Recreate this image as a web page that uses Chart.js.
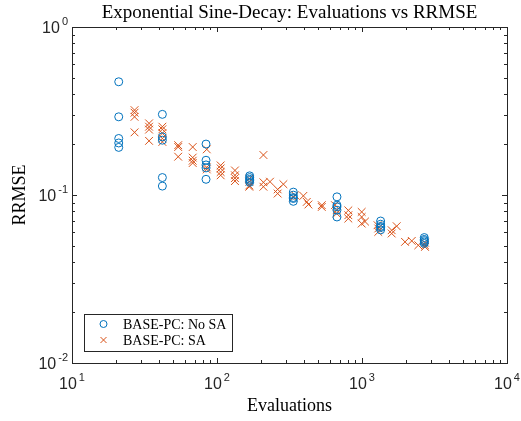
<!DOCTYPE html>
<html>
<head>
<meta charset="utf-8">
<script src="https://cdn.jsdelivr.net/npm/chart.js@4.4.0/dist/chart.umd.min.js"></script>
<style>
  body { margin: 0; background: #fff; }
  #wrap { width: 521px; height: 421px; }
</style>
</head>
<body>
<div id="wrap"><canvas id="chart" width="521" height="421"></canvas></div>
<script>
// No SA runs (circles)
const noSaEvals = [21, 21, 21, 21, 21, 42, 42, 42, 42, 42, 84, 84, 84, 84, 84,
  168, 168, 168, 168, 168, 336, 336, 336, 336, 336, 672, 672, 672, 672, 672,
  1344, 1344, 1344, 1344, 1344, 2688, 2688, 2688, 2688, 2688];
const noSaRrmse = [0.472, 0.292, 0.217, 0.204, 0.192, 0.302, 0.222, 0.212, 0.127, 0.113,
  0.201, 0.161, 0.151, 0.145, 0.124, 0.130, 0.127, 0.124, 0.122, 0.119,
  0.104, 0.0998, 0.0966, 0.0953, 0.0917, 0.0975, 0.0870, 0.0850, 0.0812, 0.0740,
  0.0700, 0.0670, 0.0650, 0.0640, 0.0620, 0.0558, 0.0544, 0.0535, 0.0525, 0.0515];

// SA runs (crosses)
const saEvals = [27, 27, 27, 27, 34, 34, 34, 34, 42, 42, 42, 42, 42, 54, 54, 54,
  68, 68, 68, 68, 85, 85, 85, 106, 106, 106, 106, 133, 133, 133, 133,
  167, 167, 167, 167, 209, 209, 209, 232, 262, 262, 287, 336, 345, 394, 416, 427,
  528, 528, 651, 669, 669, 805, 805, 805, 995, 995, 995, 1049, 1280, 1295, 1295,
  1602, 1602, 1735, 1980, 2203, 2445, 2720, 2720, 2720];
const saRrmse = [0.320, 0.309, 0.292, 0.236, 0.267, 0.255, 0.245, 0.210,
  0.255, 0.246, 0.233, 0.217, 0.207, 0.198, 0.193, 0.169,
  0.193, 0.167, 0.160, 0.155, 0.187, 0.146, 0.142, 0.150, 0.144, 0.137, 0.131,
  0.140, 0.131, 0.126, 0.121, 0.125, 0.120, 0.114, 0.112, 0.173, 0.119, 0.112,
  0.120, 0.108, 0.102, 0.116, 0.0966, 0.0997, 0.0988, 0.0910, 0.0878,
  0.0870, 0.0849, 0.0870, 0.0812, 0.0776, 0.0810, 0.0758, 0.0724,
  0.0793, 0.0740, 0.0676, 0.0695, 0.0661, 0.0632, 0.0603,
  0.0617, 0.0590, 0.0652, 0.0526, 0.0533, 0.0502, 0.0520, 0.0502, 0.0491];

const xTickExps = [1, 2, 3, 4];
const yTickExps = [0, -1, -2];
const seriesNames = ['BASE-PC: No SA', 'BASE-PC: SA'];
const titleText = 'Exponential Sine-Decay: Evaluations vs RRMSE';
const xTitle = 'Evaluations';
const yTitle = 'RRMSE';

const BLUE = '#0072BD';
const ORANGE = '#D95319';
const AXIS = '#262626';
const SERIF = '"Liberation Serif", "Times New Roman", serif';
const SANS = '"Liberation Sans", Arial, sans-serif';

function pts(xs, ys) {
  return xs.map((v, i) => ({ x: v, y: ys[i] }));
}

// draws "10" with a raised exponent, anchored by align
function powerLabel(ctx, exp, x, y, align) {
  ctx.font = '16px ' + SANS;
  const base = '10';
  const bw = ctx.measureText(base).width;
  ctx.font = '11px ' + SANS;
  const es = String(exp);
  const ew = ctx.measureText(es).width;
  const gap = 2;
  const total = bw + gap + ew;
  let left = x;
  if (align === 'center') left = x - total / 2;
  if (align === 'right') left = x - total;
  ctx.textAlign = 'left';
  ctx.textBaseline = 'alphabetic';
  ctx.font = '16px ' + SANS;
  ctx.fillText(base, left, y);
  ctx.font = '11px ' + SANS;
  ctx.fillText(es, left + bw + gap, y - 8);
}

const matlabAxes = {
  id: 'matlabAxes',
  afterDatasetsDraw(chart) {
    const { ctx, chartArea: a, scales: { x, y } } = chart;
    ctx.save();
    ctx.strokeStyle = AXIS;
    ctx.lineWidth = 1;
    ctx.beginPath();
    // x ticks (top and bottom, pointing in)
    for (let d = 1; d <= 4; d++) {
      for (let m = 1; m < 10; m++) {
        if (d === 4 && m > 1) break;
        const px = Math.round(x.getPixelForValue(m * Math.pow(10, d))) + 0.5;
        const len = m === 1 ? 5 : 3;
        ctx.moveTo(px, a.bottom); ctx.lineTo(px, a.bottom - len);
        ctx.moveTo(px, a.top); ctx.lineTo(px, a.top + len);
      }
    }
    // y ticks (left and right)
    for (let d = -2; d <= 0; d++) {
      for (let m = 1; m < 10; m++) {
        if (d === 0 && m > 1) break;
        const py = Math.round(y.getPixelForValue(m * Math.pow(10, d))) + 0.5;
        const len = m === 1 ? 5 : 3;
        ctx.moveTo(a.left, py); ctx.lineTo(a.left + len, py);
        ctx.moveTo(a.right, py); ctx.lineTo(a.right - len, py);
      }
    }
    ctx.stroke();
    ctx.strokeRect(Math.round(a.left) + 0.5, Math.round(a.top) + 0.5,
      Math.round(a.right - a.left), Math.round(a.bottom - a.top));

    // tick labels
    ctx.fillStyle = AXIS;
    xTickExps.forEach(e => {
      powerLabel(ctx, e, x.getPixelForValue(Math.pow(10, e)), a.bottom + 26, 'center');
    });
    yTickExps.forEach(e => {
      powerLabel(ctx, e, a.left - 4, y.getPixelForValue(Math.pow(10, e)) + 6, 'right');
    });

    // titles
    ctx.fillStyle = '#000';
    ctx.textAlign = 'center';
    ctx.textBaseline = 'alphabetic';
    ctx.font = '19px ' + SERIF;
    ctx.fillText(titleText, (a.left + a.right) / 2, 18);
    ctx.font = '18px ' + SERIF;
    ctx.fillText(xTitle, (a.left + a.right) / 2, 411);
    ctx.save();
    ctx.translate(25, (a.top + a.bottom) / 2);
    ctx.rotate(-Math.PI / 2);
    ctx.fillText(yTitle, 0, 0);
    ctx.restore();

    // legend box
    const lx = 84.5, ly = 314.5, lw = 148, lh = 37;
    ctx.fillStyle = '#fff';
    ctx.fillRect(lx, ly, lw, lh);
    ctx.strokeStyle = AXIS;
    ctx.strokeRect(lx, ly, lw, lh);
    ctx.lineWidth = 1;
    // circle entry
    ctx.strokeStyle = BLUE;
    ctx.beginPath();
    ctx.arc(103.5, 324, 3.5, 0, Math.PI * 2);
    ctx.stroke();
    // cross entry
    ctx.strokeStyle = ORANGE;
    ctx.beginPath();
    ctx.moveTo(100.5, 337); ctx.lineTo(106.5, 343);
    ctx.moveTo(106.5, 337); ctx.lineTo(100.5, 343);
    ctx.stroke();
    ctx.fillStyle = '#000';
    ctx.textAlign = 'left';
    ctx.font = '14px ' + SERIF;
    ctx.fillText(seriesNames[0], 123, 329);
    ctx.fillText(seriesNames[1], 123, 345);
    ctx.restore();
  }
};

new Chart(document.getElementById('chart'), {
  type: 'scatter',
  data: {
    datasets: [
      {
        label: seriesNames[0],
        data: pts(noSaEvals, noSaRrmse),
        pointStyle: 'circle',
        pointRadius: 4,
        borderColor: BLUE,
        backgroundColor: 'rgba(0,0,0,0)',
        borderWidth: 1
      },
      {
        label: seriesNames[1],
        data: pts(saEvals, saRrmse),
        pointStyle: 'crossRot',
        pointRadius: 5.5,
        borderColor: ORANGE,
        backgroundColor: ORANGE,
        borderWidth: 1
      }
    ]
  },
  options: {
    responsive: false,
    animation: false,
    layout: { padding: { left: 72, right: 14, top: 27, bottom: 58 } },
    plugins: {
      legend: { display: false },
      tooltip: { enabled: false }
    },
    scales: {
      x: { type: 'logarithmic', min: 10, max: 10000, display: false },
      y: { type: 'logarithmic', min: 0.01, max: 1, display: false }
    }
  },
  plugins: [matlabAxes]
});
</script>
</body>
</html>
